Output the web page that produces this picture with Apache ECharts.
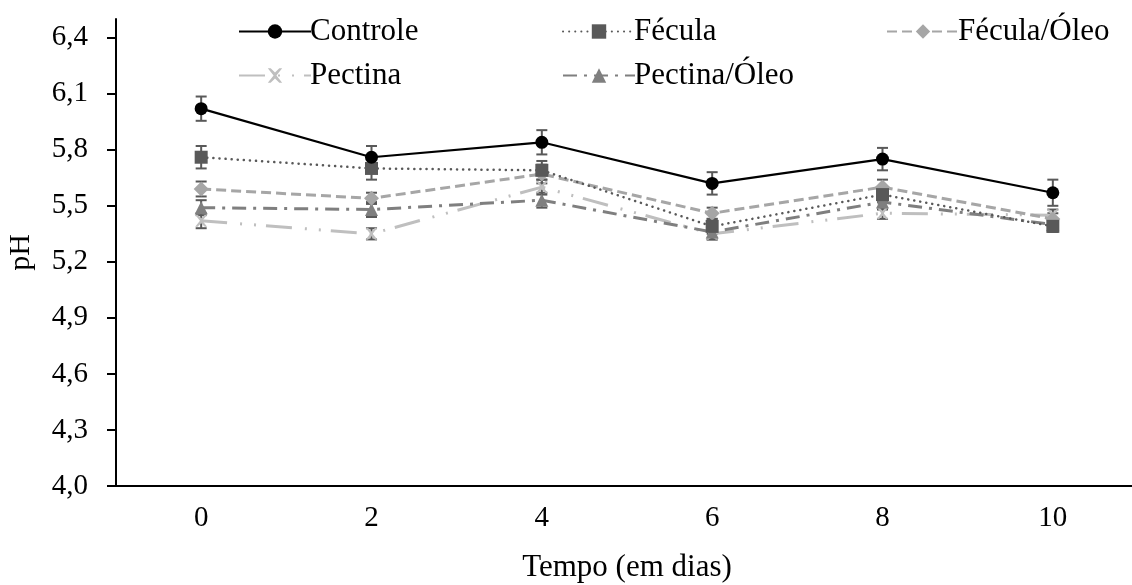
<!DOCTYPE html>
<html>
<head>
<meta charset="utf-8">
<script src="https://cdn.jsdelivr.net/npm/echarts@6/dist/echarts.min.js"></script>
<style>html,body{margin:0;padding:0;background:#fff}#c{width:1132px;height:585px}</style>
</head>
<body>
<div id="c"></div>
<script>
var days = ['0', '2', '4', '6', '8', '10'];
var yTicks = [4.0, 4.3, 4.6, 4.9, 5.2, 5.5, 5.8, 6.1, 6.4];
var controle = [6.02, 5.76, 5.84, 5.62, 5.75, 5.57];
var controleErr = [0.065, 0.06, 0.065, 0.06, 0.06, 0.07];
var fecula = [5.76, 5.70, 5.69, 5.39, 5.56, 5.39];
var feculaErr = [0.06, 0.06, 0.05, 0.04, 0.04, 0.03];
var feculaOleo = [5.59, 5.54, 5.67, 5.46, 5.60, 5.43];
var feculaOleoErr = [0.04, 0.03, 0.05, 0.03, 0.04, 0.03];
var pectina = [5.42, 5.35, 5.60, 5.35, 5.46, 5.45];
var pectinaErr = [0.04, 0.03, 0.04, 0.03, 0.03, 0.03];
var pectinaOleo = [5.49, 5.48, 5.53, 5.36, 5.52, 5.40];
var pectinaOleoErr = [0.04, 0.04, 0.04, 0.04, 0.04, 0.03];

var FONT = 'Liberation Serif';
var chart = echarts.init(document.getElementById('c'));

function errData(vals, errs) {
  return vals.map(function (v, i) { return [i, v - errs[i], v + errs[i]]; });
}
function errSeries(vals, errs) {
  return {
    type: 'custom',
    z: 1,
    silent: true,
    data: errData(vals, errs),
    encode: { x: 0, y: [1, 2] },
    renderItem: function (params, api) {
      var lo = api.coord([api.value(0), api.value(1)]);
      var hi = api.coord([api.value(0), api.value(2)]);
      var hw = 5.5;
      var st = { stroke: '#595959', lineWidth: 2 };
      return {
        type: 'group',
        children: [
          { type: 'line', shape: { x1: lo[0], y1: lo[1], x2: hi[0], y2: hi[1] }, style: st },
          { type: 'line', shape: { x1: lo[0] - hw, y1: lo[1], x2: lo[0] + hw, y2: lo[1] }, style: st },
          { type: 'line', shape: { x1: hi[0] - hw, y1: hi[1], x2: hi[0] + hw, y2: hi[1] }, style: st }
        ]
      };
    }
  };
}

var crossPath = 'path://M0,0 L2,0 L5,3 L8,0 L10,0 L6,5 L10,10 L8,10 L5,7 L2,10 L0,10 L4,5 Z';

var lineDefs = [
  { name: 'Controle', data: controle, color: '#000000', symbol: 'circle', size: 13, width: 2.2, type: 'solid', z: 6 },
  { name: 'Fécula', data: fecula, color: '#595959', symbol: 'rect', size: 13, width: 2.5, type: [0.1, 6], cap: 'round', z: 5 },
  { name: 'Fécula/Óleo', data: feculaOleo, color: '#a6a6a6', symbol: 'diamond', size: 15, width: 3, type: [10, 5], z: 4 },
  { name: 'Pectina', data: pectina, color: '#bfbfbf', symbol: crossPath, size: 12, width: 3, type: [26, 13, 2, 12, 2, 10], z: 2 },
  { name: 'Pectina/Óleo', data: pectinaOleo, color: '#7f7f7f', symbol: 'triangle', size: 13, width: 3, type: [14, 7, 3, 7], z: 3 }
];

var series = [
  errSeries(controle, controleErr),
  errSeries(fecula, feculaErr),
  errSeries(feculaOleo, feculaOleoErr),
  errSeries(pectina, pectinaErr),
  errSeries(pectinaOleo, pectinaOleoErr)
];
lineDefs.forEach(function (d) {
  series.push({
    name: d.name,
    type: 'line',
    data: d.data,
    z: d.z + 2,
    symbol: d.symbol,
    symbolSize: d.size,
    showAllSymbol: true,
    itemStyle: { color: d.color, opacity: 1 },
    lineStyle: { color: d.color, width: d.width, type: d.type, cap: d.cap || 'butt' },
    emphasis: { disabled: true },
    animation: false
  });
});

var legendPos = [
  { name: 'Controle', left: 233, top: 11 },
  { name: 'Fécula', left: 557, top: 11 },
  { name: 'Fécula/Óleo', left: 881, top: 11 },
  { name: 'Pectina', left: 233, top: 55 },
  { name: 'Pectina/Óleo', left: 557, top: 55 }
];
var legends = legendPos.map(function (p) {
  return {
    data: [p.name],
    left: p.left,
    top: p.top,
    itemWidth: 72,
    itemHeight: 18,
    itemGap: 0,
    selectedMode: false,
    textStyle: { fontFamily: FONT, fontSize: 31, color: '#000', padding: [0, 0, 0, -6] }
  };
});

chart.setOption({
  animation: false,
  backgroundColor: '#fff',
  legend: legends,
  grid: { left: 116, right: -6, top: 19, bottom: 99, containLabel: false, outerBoundsMode: 'none' },
  xAxis: {
    type: 'category',
    data: days,
    boundaryGap: true,
    name: 'Tempo (em dias)',
    nameLocation: 'middle',
    nameGap: 66,
    nameTextStyle: { fontFamily: FONT, fontSize: 31, color: '#000' },
    axisLine: { lineStyle: { color: '#000', width: 2 } },
    axisTick: { alignWithLabel: true, length: 6, lineStyle: { color: '#000', width: 2 } },
    axisLabel: { fontFamily: FONT, fontSize: 29, color: '#000', margin: 18 },
    splitLine: { show: false }
  },
  yAxis: {
    type: 'value',
    min: 4.0,
    max: 6.5,
    name: 'pH',
    nameLocation: 'middle',
    nameGap: 80,
    nameRotate: 90,
    nameTextStyle: { fontFamily: FONT, fontSize: 30, color: '#000' },
    axisLine: { show: true, lineStyle: { color: '#000', width: 2 } },
    axisTick: { show: true, length: 9, customValues: yTicks, lineStyle: { color: '#000', width: 2 } },
    axisLabel: {
      fontFamily: FONT, fontSize: 29, color: '#000', margin: 28,
      customValues: yTicks,
      formatter: function (v) { return v.toFixed(1).replace('.', ','); }
    },
    splitLine: { show: false }
  },
  series: series
});
</script>
</body>
</html>
